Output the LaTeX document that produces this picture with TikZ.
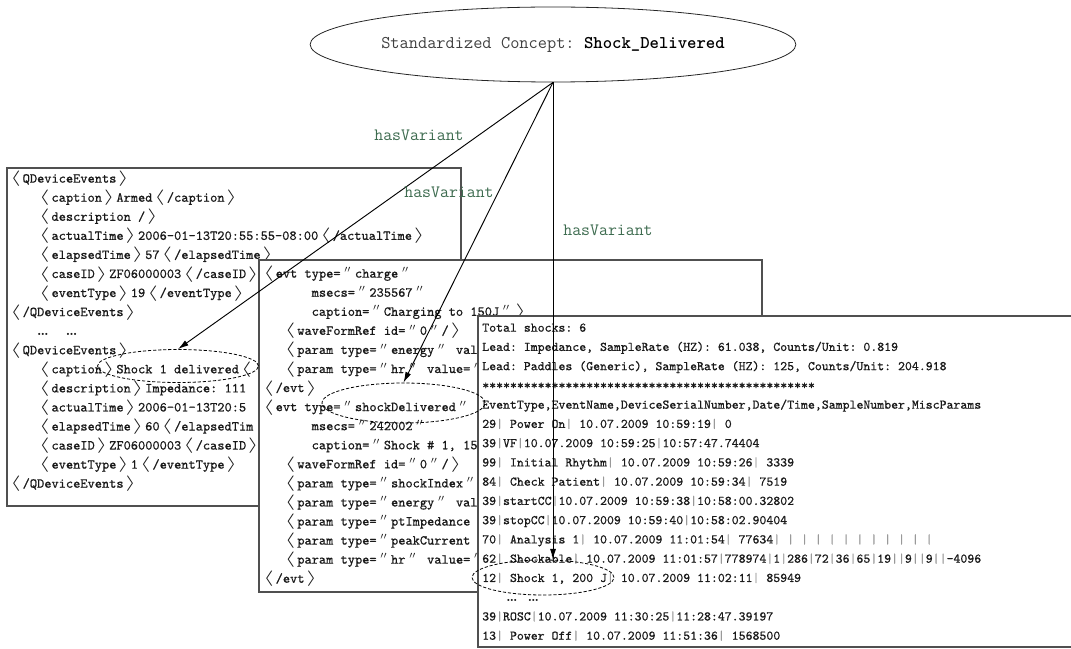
\documentclass[tikz,border=0pt]{standalone}
\usepackage{fontspec}
\usepackage{graphicx}
\usetikzlibrary{shapes.geometric,arrows.meta}

\newfontfamily\codefont{Latin Modern Mono}[FakeBold=0.6]

\definecolor{relgreen}{RGB}{62,108,80}
\definecolor{boxgray}{RGB}{80,80,80}
\definecolor{txtgray}{RGB}{25,25,25}

% full-width tag brackets and quotes, one monospaced cell = 0.525em
\newcommand\la{\makebox[1.05em]{\scalebox{2.0}[1.15]{$\langle$}}}
\newcommand\ra{\makebox[1.05em]{\scalebox{2.0}[1.15]{$\rangle$}}}
\newcommand\qt{\makebox[1.05em]{$''$}}
\newcommand\ind[1]{\hspace*{#1\dimexpr0.525em\relax}}
\newcommand\vbar{\textcolor{black!40}{|}}
\newcommand\elide{{\rmfamily\bfseries\ldots}}
\newcommand\fixspace{\spaceskip=0.525em\xspaceskip=0.525em\relax}
\frenchspacing

\begin{document}
\begin{tikzpicture}[x=0.75pt,y=-0.75pt,
  docbox/.style={draw=boxgray,line width=0.9pt,fill=white},
  xmltext/.style={anchor=north west,inner sep=0pt,align=left,text=txtgray,
    font=\fontsize{10.3}{14.3}\selectfont\codefont\fixspace},
  logtext/.style={anchor=north west,inner sep=0pt,align=left,text=txtgray,
    font=\fontsize{9.9}{14.44}\selectfont\codefont\fixspace},
  hilite/.style={draw=black,ellipse,dash pattern=on 2.4pt off 1.4pt,line width=0.6pt,inner sep=0pt},
  variant/.style={-{Latex[length=8pt,width=4.5pt]},line width=0.7pt},
  rel/.style={text=relgreen,inner sep=0pt,font=\fontsize{13}{15}\selectfont\ttfamily}]

\useasboundingbox (0,0) rectangle (1071,649);

% concept
\node[draw=black!85,line width=0.6pt,ellipse,minimum width=325.5pt,minimum height=56.25pt,inner sep=0pt]
  (concept) at (553,44.5)
  {\fontsize{13.4}{16}\selectfont\ttfamily\fixspace\textcolor{black!75}{Standardized Concept:} \textcolor{black}{\bfseries Shock\_Delivered}};

% QDeviceEvents export
\draw[docbox] (7,168) rectangle (461,506);
\node[xmltext] (leftxml) at (8,170.4) {\rule{0pt}{9pt}\la QDeviceEvents\ra\\
\ind4\la caption\ra Armed\la/caption\ra\\
\ind4\la description /\ra\\
\ind4\la actualTime\ra 2006-01-13T20:55:55-08:00\la/actualTime\ra\\
\ind4\la elapsedTime\ra 57\la/elapsedTime\ra\\
\ind4\la caseID\ra ZF06000003\la/caseID\ra\\
\ind4\la eventType\ra 19\la/eventType\ra\\
\la/QDeviceEvents\ra\\
\ind4\elide\hspace{13pt}\elide\\
\la QDeviceEvents\ra\\
\ind4\la caption\ra Shock 1 delivered\la\\
\ind4\la description\ra Impedance: 111\\
\ind4\la actualTime\ra 2006-01-13T20:5\\
\ind4\la elapsedTime\ra 60\la/elapsedTim\\
\ind4\la caseID\ra ZF06000003\la/caseID\ra\\
\ind4\la eventType\ra 1\la/eventType\ra\\
\la/QDeviceEvents\ra};

% evt export
\draw[docbox] (259,260) rectangle (762,592);
\node[xmltext] (midxml) at (261,265.4) {\rule{0pt}{9pt}\la evt type=\qt charge\qt\\
\ind6 msecs=\qt 235567\qt\\
\ind6 caption=\qt Charging to 150J\qt\ra\\
\ind3\la waveFormRef id=\qt 0\qt/\ra\\
\ind3\la param type=\qt energy\qt{} val\\
\ind3\la param type=\qt hr\qt{} value=\qt\\
\la/evt\ra\\
\la evt type=\qt shockDelivered\qt\\
\ind6 msecs=\qt 242002\qt\\
\ind6 caption=\qt Shock \# 1, 15\\
\ind3\la waveFormRef id=\qt 0\qt/\ra\\
\ind3\la param type=\qt shockIndex\qt\\
\ind3\la param type=\qt energy\qt{} val\\
\ind3\la param type=\qt ptImpedance\\
\ind3\la param type=\qt peakCurrent\\
\ind3\la param type=\qt hr\qt{} value=\qt\\
\la/evt\ra};

% event log export
\fill[white] (478,316) rectangle (1071,647);
\draw[boxgray,line width=0.9pt] (1071,316) -- (478,316) -- (478,647) -- (1071,647);
\node[logtext] (rightlog) at (482,319.4) {\rule{0pt}{9pt}Total shocks: 6\\
Lead: Impedance, SampleRate (HZ): 61.038, Counts/Unit: 0.819\\
Lead: Paddles (Generic), SampleRate (HZ): 125, Counts/Unit: 204.918\\
************************************************\\
EventType,EventName,DeviceSerialNumber,Date/Time,SampleNumber,MiscParams\\
29\vbar{} Power On\vbar{} 10.07.2009 10:59:19\vbar{} 0\\
39\vbar VF\vbar 10.07.2009 10:59:25\vbar 10:57:47.74404\\
99\vbar{} Initial Rhythm\vbar{} 10.07.2009 10:59:26\vbar{} 3339\\
84\vbar{} Check Patient\vbar{} 10.07.2009 10:59:34\vbar{} 7519\\
39\vbar startCC\vbar 10.07.2009 10:59:38\vbar 10:58:00.32802\\
39\vbar stopCC\vbar 10.07.2009 10:59:40\vbar 10:58:02.90404\\
70\vbar{} Analysis 1\vbar{} 10.07.2009 11:01:54\vbar{} 77634\vbar{} \vbar{} \vbar{} \vbar{} \vbar{} \vbar{} \vbar{} \vbar{} \vbar{} \vbar{} \vbar{} \vbar\\
62\vbar{} Shockable\vbar{} 10.07.2009 11:01:57\vbar 778974\vbar 1\vbar 286\vbar 72\vbar 36\vbar 65\vbar 19\vbar\vbar 9\vbar\vbar 9\vbar\vbar -4096\\
12\vbar{} Shock 1, 200 J\vbar{} 10.07.2009 11:02:11\vbar{} 85949\\
\hspace*{18pt}\elide\hspace{8pt}\elide\\
39\vbar ROSC\vbar 10.07.2009 11:30:25\vbar 11:28:47.39197\\
13\vbar{} Power Off\vbar{} 10.07.2009 11:51:36\vbar{} 1568500};

% highlighted variants
\node[hilite,minimum width=120.75pt,minimum height=24.75pt] (hl1) at (178,366) {};
\node[hilite,minimum width=122.25pt,minimum height=30pt] (hl2) at (403.5,403) {};
\node[hilite,minimum width=106.5pt,minimum height=26.25pt] (hl3) at (543,577.5) {};

% hasVariant relations
\draw[variant] (concept.south) -- (hl1.north);
\draw[variant] (concept.south) -- (hl2.north);
\draw[variant] (concept.south) -- (concept.south |- hl3.north);

\node[rel] (v1) at (419,135) {hasVariant};
\node[rel] (v2) at (449,192) {hasVariant};
\node[rel] (v3) at (608,230) {hasVariant};
\end{tikzpicture}
\end{document}
